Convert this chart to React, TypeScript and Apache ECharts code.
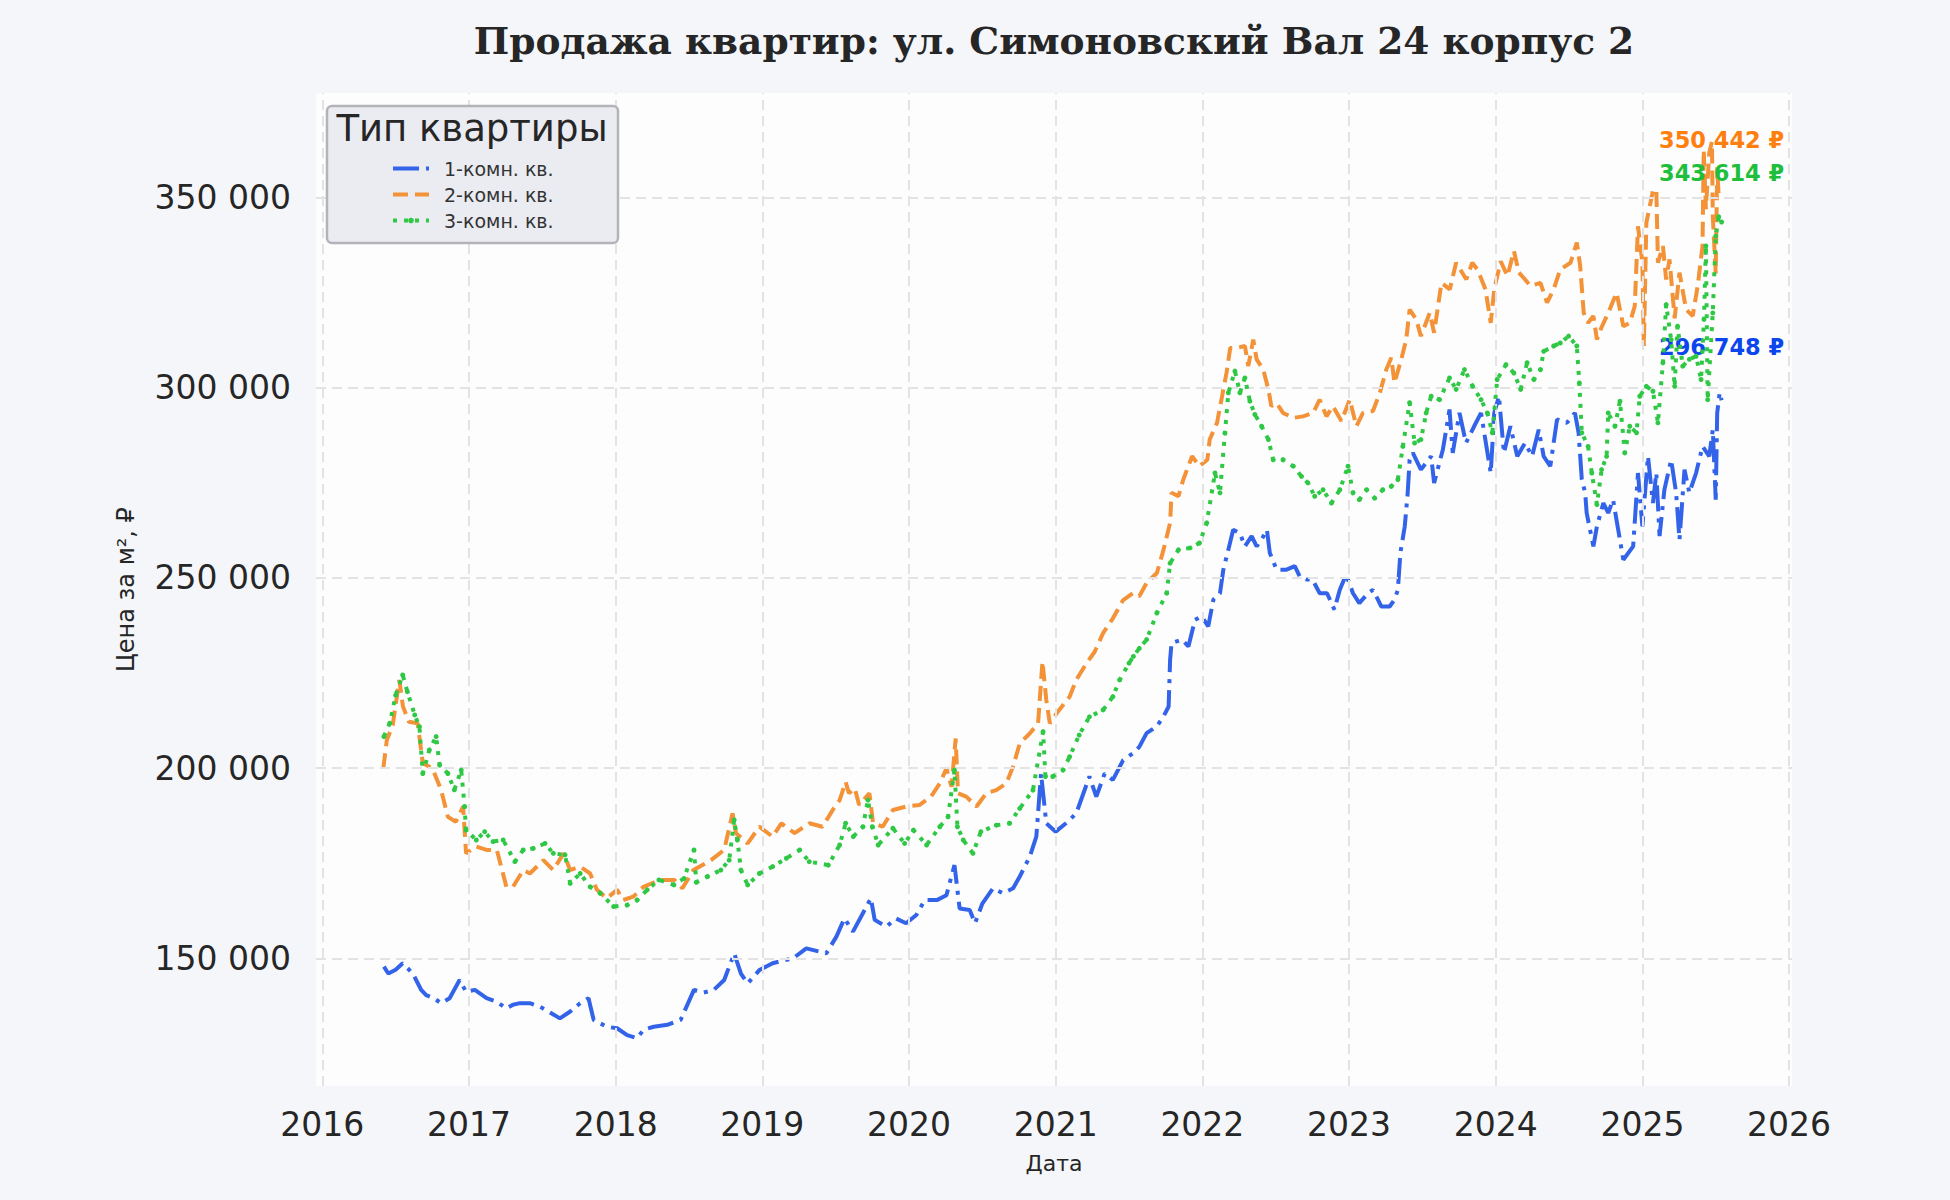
import { useEffect, useRef } from "react";
import * as echarts from "echarts";

const TITLE = "Продажа квартир: ул. Симоновский Вал 24 корпус 2";
const LEGEND_TITLE = "Тип квартиры";
const seriesNames = ["1-комн. кв.", "2-комн. кв.", "3-комн. кв."];
const lineColors = ["#3263e9", "#f39236", "#2fc845"];
const labelColors = ["#0a45ee", "#ff7f0e", "#1fbf3c"];
const yearTicks = [2016, 2017, 2018, 2019, 2020, 2021, 2022, 2023, 2024, 2025, 2026];
const priceTicks = [150000, 200000, 250000, 300000, 350000];

// [год (дробный), цена за м²]
const oneRoom: [number, number][] = [
  [2016.42, 147800], [2016.45, 146000], [2016.5, 147000], [2016.548, 148700], [2016.617, 146000],
  [2016.674, 141700], [2016.708, 140300], [2016.76, 139500], [2016.81, 138200], [2016.868, 139500],
  [2016.936, 144300], [2016.98, 141200], [2017.04, 141700], [2017.12, 139500], [2017.187, 138600],
  [2017.255, 136800], [2017.3, 137800], [2017.347, 138200], [2017.415, 138200], [2017.484, 137300],
  [2017.564, 135500], [2017.62, 134200], [2017.69, 136000], [2017.758, 138200], [2017.815, 139500],
  [2017.85, 133800], [2017.94, 132000], [2018.01, 131600], [2018.078, 129800], [2018.146, 129000],
  [2018.19, 131200], [2018.26, 132000], [2018.352, 132500], [2018.443, 133800], [2018.534, 141700],
  [2018.6, 141000], [2018.67, 141700], [2018.74, 144300], [2018.808, 151300], [2018.854, 146000],
  [2018.9, 143400], [2018.98, 146900], [2019.07, 148700], [2019.21, 150000], [2019.3, 152600],
  [2019.436, 151300], [2019.505, 155700], [2019.56, 160500], [2019.618, 157000], [2019.71, 163600],
  [2019.74, 165800], [2019.766, 160100], [2019.845, 158300], [2019.91, 160500], [2019.98, 159200],
  [2020.05, 161400], [2020.107, 165300], [2020.19, 165300], [2020.255, 166600], [2020.31, 174500],
  [2020.345, 163100], [2020.414, 162700], [2020.45, 159200], [2020.5, 164400], [2020.573, 168400],
  [2020.64, 167100], [2020.71, 168400], [2020.755, 171500], [2020.823, 176700], [2020.868, 182000],
  [2020.9, 198600], [2020.936, 185500], [2021.0, 183300], [2021.07, 185500], [2021.14, 188100],
  [2021.23, 197800], [2021.277, 192500], [2021.334, 198600], [2021.39, 196900], [2021.46, 202100],
  [2021.527, 203900], [2021.57, 205600], [2021.62, 209200], [2021.69, 211000], [2021.735, 213600],
  [2021.77, 216200], [2021.78, 228500], [2021.79, 232900], [2021.86, 233800], [2021.905, 232000],
  [2021.95, 239000], [2021.995, 239900], [2022.04, 237300], [2022.075, 244300], [2022.12, 246000],
  [2022.143, 252200], [2022.177, 257400], [2022.21, 262700], [2022.256, 261800], [2022.29, 258300],
  [2022.336, 261000], [2022.37, 258300], [2022.404, 260100], [2022.44, 262700], [2022.46, 256600],
  [2022.506, 252200], [2022.574, 252200], [2022.63, 253100], [2022.664, 250400], [2022.71, 249600],
  [2022.75, 249600], [2022.8, 246000], [2022.85, 246000], [2022.9, 241700], [2022.937, 246900],
  [2022.98, 250900], [2023.027, 246000], [2023.07, 243400], [2023.13, 246000], [2023.163, 246900],
  [2023.22, 242500], [2023.277, 242500], [2023.31, 244300], [2023.333, 246900], [2023.35, 256600],
  [2023.38, 263600], [2023.4, 272400], [2023.413, 281100], [2023.435, 282900], [2023.49, 278500],
  [2023.56, 282000], [2023.58, 275000], [2023.64, 283800], [2023.685, 294300], [2023.707, 282900],
  [2023.753, 293400], [2023.797, 285500], [2023.853, 289900], [2023.9, 293400], [2023.966, 277600],
  [2023.99, 293400], [2024.022, 297800], [2024.056, 282900], [2024.1, 289900], [2024.147, 282000],
  [2024.2, 285500], [2024.248, 282000], [2024.293, 289000], [2024.327, 282000], [2024.372, 279400],
  [2024.418, 291700], [2024.485, 290800], [2024.54, 293400], [2024.565, 288200], [2024.587, 275900],
  [2024.61, 272400], [2024.62, 267100], [2024.666, 258300], [2024.69, 263600], [2024.734, 269700],
  [2024.767, 267100], [2024.8, 270600], [2024.835, 262700], [2024.87, 254800], [2024.937, 258300],
  [2024.97, 277600], [2025.0, 263600], [2025.038, 282000], [2025.072, 269700], [2025.095, 277600],
  [2025.117, 261000], [2025.15, 273200], [2025.196, 281100], [2025.23, 272400], [2025.253, 260100],
  [2025.287, 278500], [2025.32, 272400], [2025.366, 277600], [2025.41, 284600], [2025.456, 282000],
  [2025.48, 289000], [2025.5, 270600], [2025.51, 293400], [2025.527, 298700], [2025.54, 296748],
];

const twoRoom: [number, number][] = [
  [2016.416, 200000], [2016.44, 207400], [2016.48, 211300], [2016.525, 223200], [2016.55, 216200],
  [2016.59, 212200], [2016.65, 211800], [2016.685, 201300], [2016.75, 200000], [2016.81, 194300],
  [2016.856, 187200], [2016.91, 185900], [2016.96, 189900], [2016.98, 177600], [2017.05, 179400],
  [2017.12, 178500], [2017.19, 178500], [2017.255, 168800], [2017.3, 168800], [2017.37, 173200],
  [2017.415, 172300], [2017.507, 175800], [2017.575, 173200], [2017.645, 177600], [2017.69, 173200],
  [2017.758, 174100], [2017.826, 172300], [2017.872, 168000], [2017.94, 165800], [2018.01, 168000],
  [2018.05, 165300], [2018.12, 166200], [2018.19, 168800], [2018.3, 170600], [2018.4, 170600],
  [2018.455, 168400], [2018.53, 173200], [2018.65, 175800], [2018.74, 178500], [2018.797, 188100],
  [2018.82, 182900], [2018.9, 180200], [2018.98, 184600], [2019.07, 182000], [2019.13, 185500],
  [2019.22, 182900], [2019.32, 185500], [2019.41, 184600], [2019.48, 189000], [2019.527, 191600],
  [2019.568, 196400], [2019.59, 193400], [2019.63, 194700], [2019.66, 190300], [2019.73, 193400],
  [2019.755, 185500], [2019.82, 184600], [2019.89, 189000], [2019.98, 189900], [2020.07, 190300],
  [2020.15, 192500], [2020.21, 196000], [2020.255, 199900], [2020.29, 195100], [2020.318, 207800],
  [2020.334, 193400], [2020.39, 192500], [2020.46, 189900], [2020.527, 193400], [2020.595, 194200],
  [2020.664, 196000], [2020.709, 200400], [2020.755, 206500], [2020.823, 209100], [2020.88, 211800],
  [2020.91, 228000], [2020.936, 217900], [2020.96, 211800], [2021.016, 214900], [2021.095, 218800],
  [2021.14, 223200], [2021.21, 227600], [2021.266, 230600], [2021.323, 235500], [2021.39, 239400],
  [2021.46, 244200], [2021.527, 246000], [2021.57, 245200], [2021.62, 248700], [2021.69, 251300],
  [2021.735, 257400], [2021.78, 264500], [2021.79, 272400], [2021.837, 271500], [2021.87, 275900],
  [2021.93, 282000], [2021.98, 279400], [2022.034, 281100], [2022.05, 286400], [2022.1, 290800],
  [2022.13, 296900], [2022.165, 304000], [2022.19, 310500], [2022.234, 310500], [2022.29, 311000],
  [2022.313, 305700], [2022.347, 312700], [2022.37, 307500], [2022.415, 304800], [2022.45, 299600],
  [2022.47, 295200], [2022.506, 296000], [2022.55, 293400], [2022.62, 292100], [2022.687, 292500],
  [2022.755, 293400], [2022.8, 296900], [2022.846, 292500], [2022.89, 295200], [2022.948, 291300],
  [2023.005, 296900], [2023.05, 289900], [2023.095, 293400], [2023.163, 293900], [2023.21, 298700],
  [2023.254, 304800], [2023.288, 307900], [2023.31, 301300], [2023.356, 307500], [2023.39, 312700],
  [2023.413, 320600], [2023.458, 318000], [2023.49, 313600], [2023.55, 319700], [2023.58, 314500],
  [2023.63, 327600], [2023.687, 325900], [2023.73, 332900], [2023.8, 328500], [2023.84, 332900],
  [2023.876, 331100], [2023.93, 325900], [2023.966, 317100], [2023.99, 325900], [2024.034, 333300],
  [2024.08, 329400], [2024.124, 336000], [2024.158, 330300], [2024.2, 328500], [2024.237, 326800],
  [2024.305, 327600], [2024.35, 322400], [2024.395, 325900], [2024.44, 331100], [2024.51, 332900],
  [2024.553, 338200], [2024.576, 332000], [2024.6, 319700], [2024.63, 317100], [2024.666, 318900],
  [2024.69, 312700], [2024.72, 315800], [2024.767, 319700], [2024.824, 325000], [2024.87, 316200],
  [2024.914, 317100], [2024.948, 321500], [2024.97, 342500], [2025.0, 332900], [2025.01, 311000],
  [2025.027, 343400], [2025.072, 351800], [2025.095, 352200], [2025.106, 332900], [2025.14, 337300],
  [2025.162, 328500], [2025.185, 333800], [2025.22, 318300], [2025.253, 330300], [2025.298, 320600],
  [2025.343, 318900], [2025.377, 326800], [2025.41, 337300], [2025.418, 362500], [2025.433, 347000],
  [2025.456, 361800], [2025.474, 364700], [2025.48, 345100], [2025.5, 330100], [2025.51, 358000],
  [2025.52, 350400], [2025.54, 350442],
];

const threeRoom: [number, number][] = [
  [2016.42, 208300], [2016.46, 211800], [2016.5, 219200], [2016.548, 224500], [2016.58, 220100],
  [2016.63, 214000], [2016.662, 210900], [2016.685, 198600], [2016.73, 204800], [2016.776, 208300],
  [2016.8, 200800], [2016.856, 198600], [2016.9, 194300], [2016.947, 199500], [2016.97, 189900],
  [2016.98, 183700], [2017.05, 181100], [2017.107, 183300], [2017.164, 180700], [2017.233, 181100],
  [2017.313, 175400], [2017.37, 178500], [2017.438, 178900], [2017.518, 180200], [2017.575, 177600],
  [2017.655, 177200], [2017.69, 169700], [2017.758, 172300], [2017.826, 168800], [2017.895, 167100],
  [2017.986, 163600], [2018.078, 164000], [2018.146, 165300], [2018.215, 168000], [2018.295, 170600],
  [2018.397, 169300], [2018.466, 171000], [2018.534, 178500], [2018.55, 170000], [2018.626, 171500],
  [2018.717, 173200], [2018.774, 175800], [2018.808, 186400], [2018.83, 181100], [2018.854, 173200],
  [2018.9, 169300], [2018.98, 172300], [2019.07, 174100], [2019.164, 176300], [2019.255, 178500],
  [2019.32, 175400], [2019.45, 174500], [2019.527, 179800], [2019.568, 185500], [2019.62, 182000],
  [2019.686, 184600], [2019.72, 191600], [2019.75, 184600], [2019.79, 179800], [2019.89, 184200],
  [2019.97, 180200], [2020.03, 183700], [2020.12, 179800], [2020.21, 184600], [2020.266, 187200],
  [2020.31, 199500], [2020.33, 184600], [2020.37, 181100], [2020.436, 177600], [2020.49, 183300],
  [2020.595, 185000], [2020.686, 185500], [2020.755, 189400], [2020.845, 194200], [2020.914, 209600],
  [2020.93, 197800], [2020.98, 197800], [2021.05, 199500], [2021.095, 203000], [2021.16, 208700],
  [2021.23, 213500], [2021.323, 215300], [2021.39, 218800], [2021.436, 223200], [2021.5, 227600],
  [2021.53, 229400], [2021.57, 231500], [2021.62, 233800], [2021.69, 240800], [2021.757, 246000],
  [2021.78, 253900], [2021.837, 257400], [2021.916, 257900], [2021.98, 259200], [2022.03, 264500],
  [2022.086, 277600], [2022.12, 272400], [2022.154, 288100], [2022.177, 298700], [2022.222, 304400],
  [2022.256, 298700], [2022.29, 302600], [2022.324, 296500], [2022.358, 293000], [2022.404, 289900],
  [2022.45, 286400], [2022.483, 281100], [2022.55, 281100], [2022.62, 279400], [2022.676, 276700],
  [2022.72, 275000], [2022.766, 271500], [2022.823, 273200], [2022.88, 269700], [2022.937, 273200],
  [2022.993, 279400], [2023.027, 272400], [2023.07, 270600], [2023.12, 273200], [2023.175, 271000],
  [2023.23, 273200], [2023.288, 274100], [2023.333, 275900], [2023.367, 284600], [2023.413, 296100],
  [2023.447, 285500], [2023.49, 286400], [2023.526, 293400], [2023.56, 297800], [2023.617, 296900],
  [2023.685, 302600], [2023.73, 299600], [2023.787, 304800], [2023.843, 300400], [2023.9, 296900],
  [2023.943, 293400], [2023.977, 288200], [2024.01, 302200], [2024.07, 306100], [2024.124, 303900],
  [2024.17, 299600], [2024.214, 306600], [2024.26, 302200], [2024.305, 304800], [2024.327, 309600],
  [2024.395, 311000], [2024.44, 311800], [2024.497, 313600], [2024.553, 311000], [2024.57, 301300],
  [2024.587, 288200], [2024.63, 284600], [2024.655, 277600], [2024.69, 269300], [2024.722, 278500],
  [2024.756, 282000], [2024.767, 293400], [2024.813, 289900], [2024.847, 296500], [2024.88, 282900],
  [2024.914, 289900], [2024.96, 288200], [2024.982, 297800], [2025.027, 300400], [2025.072, 299100],
  [2025.106, 290800], [2025.14, 306600], [2025.162, 321900], [2025.196, 312700], [2025.22, 300400],
  [2025.24, 316200], [2025.275, 305700], [2025.32, 307500], [2025.366, 308300], [2025.4, 302200],
  [2025.42, 318000], [2025.433, 337300], [2025.445, 296900], [2025.48, 319700], [2025.5, 339900],
  [2025.52, 345000], [2025.54, 343614],
];

const allSeries = [oneRoom, twoRoom, threeRoom];
const labelOffsets = [-53, -56, -49];

const fmt = (v: number) => String(Math.round(v)).replace(/\B(?=(\d{3})+(?!\d))/g, " ");

const App = () => {
  const chartRef = useRef<HTMLDivElement>(null);

  useEffect(() => {
    document.body.style.margin = "0";
    const chart = echarts.init(chartRef.current!, null, { renderer: "svg" });

    const gridStyle = { color: "#e3e3e6", width: 2, type: [10, 6] as number[] };

    const dataSeries = allSeries.map((data, i) => {
      const last = data[data.length - 1];
      const lineType = i === 0 ? [26, 7, 4, 7] : i === 1 ? [15, 7] : [4, 7];
      return {
        name: seriesNames[i],
        type: "line",
        data,
        z: 3 + i,
        silent: true,
        symbol: i === 2 ? "circle" : "none",
        symbolSize: 5,
        showSymbol: i === 2,
        itemStyle: { color: lineColors[i] },
        lineStyle: { color: lineColors[i], width: 4, type: lineType },
        markPoint: {
          silent: true,
          symbol: "circle",
          symbolSize: 0,
          data: [{ coord: last, value: last[1] }],
          label: {
            show: true,
            formatter: fmt(last[1]) + " ₽",
            color: labelColors[i],
            fontWeight: "bold",
            fontSize: 22.5,
            fontFamily: "DejaVu Sans",
            offset: [0, labelOffsets[i]],
          },
        },
      };
    });

    chart.setOption({
      animation: false,
      backgroundColor: "#f5f6fa",
      textStyle: { fontFamily: "DejaVu Sans" },
      title: {
        text: TITLE,
        left: 1049,
        top: 17,
        textAlign: "center",
        textStyle: {
          fontFamily: "DejaVu Serif",
          fontWeight: "bold",
          fontSize: 37.5,
          color: "#262626",
        },
      },
      grid: {
        left: 316,
        top: 93,
        right: 158,
        bottom: 114,
        show: true,
        backgroundColor: "#fdfdfe",
        borderWidth: 0,
      },
      legend: {
        data: seriesNames.map((name, i) =>
          i === 2 ? { name } : { name, itemStyle: { opacity: 0 } }
        ),
        orient: "vertical",
        left: 391,
        top: 159,
        padding: 0,
        itemWidth: 36,
        itemHeight: 7,
        itemGap: 7,
        z: 10,
        lineStyle: { width: 4 },
        textStyle: { fontSize: 19, color: "#333333", padding: [0, 0, 0, 10] },
      },
      graphic: [
        {
          type: "rect",
          z: 9,
          shape: { x: 327, y: 106, width: 291, height: 137, r: 5 },
          style: { fill: "#ebebf2", stroke: "#b4b4b8", lineWidth: 2.5 },
        },
        {
          type: "text",
          z: 10,
          x: 472,
          y: 128,
          style: {
            text: LEGEND_TITLE,
            fontSize: 37,
            fontFamily: "DejaVu Sans",
            fill: "#262626",
            align: "center",
            verticalAlign: "middle",
          },
        },
      ],
      xAxis: {
        type: "value",
        min: 2015.957,
        max: 2026.02,
        splitNumber: 10,
        name: "Дата",
        nameLocation: "middle",
        nameGap: 66,
        nameTextStyle: { fontSize: 22, color: "#262626" },
        axisLine: { show: false },
        axisTick: { show: false },
        splitLine: { show: false },
        axisLabel: {
          fontSize: 33,
          color: "#262626",
          margin: 22,
          formatter: (v: number) => (Number.isInteger(v) ? String(v) : ""),
        },
      },
      yAxis: {
        type: "value",
        min: 116420,
        max: 377530,
        splitNumber: 5,
        name: "Цена за м², ₽",
        nameLocation: "middle",
        nameGap: 178,
        nameTextStyle: { fontSize: 24, color: "#262626" },
        axisLine: { show: false },
        axisTick: { show: false },
        splitLine: { show: false },
        axisLabel: {
          fontSize: 33,
          color: "#262626",
          margin: 25,
          formatter: (v: number) => (v % 50000 === 0 ? fmt(v) : ""),
        },
      },
      series: [
        {
          name: "grid",
          type: "line",
          data: [],
          z: 1,
          silent: true,
          markLine: {
            silent: true,
            symbol: ["none", "none"],
            label: { show: false },
            lineStyle: gridStyle,
            data: [
              ...yearTicks.map((y) => ({ xAxis: y })),
              ...priceTicks.map((p) => ({ yAxis: p })),
            ],
          },
        },
        ...dataSeries,
      ],
    });

    return () => {
      chart.dispose();
    };
  }, []);

  return <div ref={chartRef} style={{ width: 1950, height: 1200 }} />;
};

export default App;
